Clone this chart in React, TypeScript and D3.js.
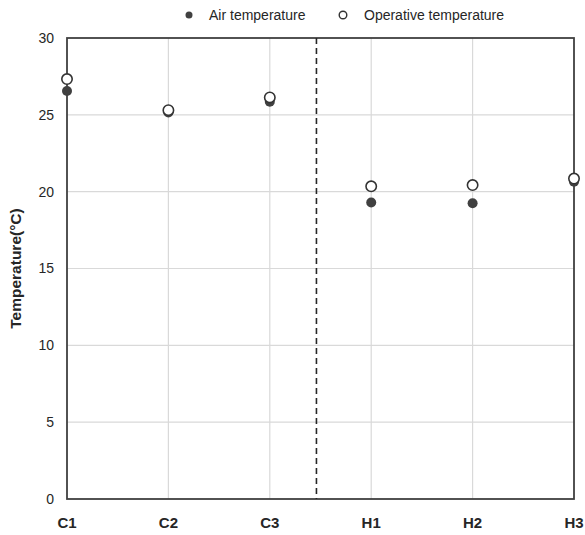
import React from 'react'
import * as d3 from 'd3'

const CATEGORIES = ['C1', 'C2', 'C3', 'H1', 'H2', 'H3']
const AIR_TEMP = [26.55, 25.15, 25.85, 19.3, 19.25, 20.65]
const OPERATIVE_TEMP = [27.33, 25.3, 26.13, 20.35, 20.43, 20.85]
const Y_TICKS = [0, 5, 10, 15, 20, 25, 30]
const DIVIDER_AT = 2.46

const W = 585
const H = 535
const margins = { top: 38, right: 11, bottom: 36, left: 67 }

const App = () => {
  const innerW = W - margins.left - margins.right
  const innerH = H - margins.top - margins.bottom

  const xScale = d3.scaleLinear()
    .domain([0, CATEGORIES.length - 1])
    .range([0, innerW])

  const yScale = d3.scaleLinear()
    .domain([0, 30])
    .range([innerH, 0])

  const font = 'Liberation Sans, Arial, sans-serif'

  return (
    <svg width={W} height={H} style={{ position: 'absolute', left: 0, top: 0 }}>
      <rect width={W} height={H} fill="#fff" />
      <g transform={`translate(${margins.left},${margins.top})`}>
        {Y_TICKS.filter(t => t > 0 && t < 30).map(t => (
          <line key={'gy' + t} x1={0} x2={innerW} y1={yScale(t)} y2={yScale(t)}
            stroke="#d9d9d9" strokeWidth={1.2} />
        ))}
        {CATEGORIES.slice(1, -1).map((c, i) => (
          <line key={'gx' + c} x1={xScale(i + 1)} x2={xScale(i + 1)} y1={0} y2={innerH}
            stroke="#d9d9d9" strokeWidth={1.2} />
        ))}
        <rect x={0} y={0} width={innerW} height={innerH} fill="none" stroke="#404040" strokeWidth={1.8} />
        <line x1={xScale(DIVIDER_AT)} x2={xScale(DIVIDER_AT)} y1={0} y2={innerH}
          stroke="#262626" strokeWidth={1.6} strokeDasharray="6,4" />

        {Y_TICKS.map(t => (
          <text key={'ty' + t} x={-13} y={yScale(t)} dy="0.35em" textAnchor="end"
            fontFamily={font} fontSize={14} fill="#262626">{t}</text>
        ))}
        {CATEGORIES.map((c, i) => (
          <text key={'tx' + c} x={xScale(i)} y={innerH + 29} textAnchor="middle"
            fontFamily={font} fontSize={15} fontWeight="bold" fill="#262626">{c}</text>
        ))}

        {AIR_TEMP.map((v, i) => (
          <circle key={'a' + i} cx={xScale(i)} cy={yScale(v)} r={5} fill="#404040" />
        ))}
        {OPERATIVE_TEMP.map((v, i) => (
          <circle key={'o' + i} cx={xScale(i)} cy={yScale(v)} r={5.2} fill="#fff"
            stroke="#333" strokeWidth={1.6} />
        ))}
      </g>

      <text transform={`translate(21,${margins.top + innerH / 2}) rotate(-90)`} textAnchor="middle"
        fontFamily={font} fontSize={15.5} fontWeight="bold" fill="#262626">Temperature(°C)</text>

      <circle cx={189} cy={15} r={3.5} fill="#404040" />
      <text x={209} y={15} dy="0.35em" fontFamily={font} fontSize={14} fill="#262626">Air temperature</text>
      <circle cx={343} cy={15} r={3.8} fill="#fff" stroke="#333" strokeWidth={1.4} />
      <text x={364} y={15} dy="0.35em" fontFamily={font} fontSize={14} fill="#262626">Operative temperature</text>
    </svg>
  )
}

export default App
